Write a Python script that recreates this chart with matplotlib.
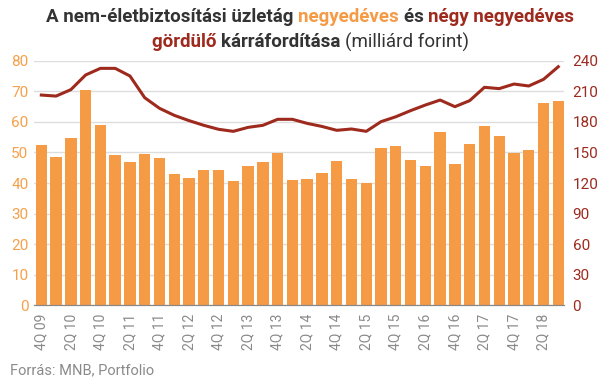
import matplotlib
matplotlib.use("Agg")
from matplotlib import pyplot as plt

plt.rcParams['font.family'] = ['Roboto', 'DejaVu Sans']

# negyedeves karraforditas (bal tengely, mrd Ft)
quarterly = [52.4, 48.5, 54.7, 70.4, 59.0, 49.2, 46.9, 49.5, 48.2, 42.9,
             41.7, 44.3, 44.3, 40.7, 45.6, 46.9, 49.8, 41.0, 41.3, 43.3,
             47.2, 41.3, 40.0, 51.4, 52.1, 47.5, 45.6, 56.7, 46.2, 52.8,
             58.6, 55.4, 49.8, 50.8, 66.2, 66.8]
# negy negyedeves gordulo (jobb tengely)
rolling = [206.3, 205.3, 211.6, 226.0, 232.5, 232.5, 225.0, 203.7, 193.3, 186.4,
           181.2, 176.6, 172.7, 170.7, 174.6, 176.6, 182.5, 182.5, 178.5, 175.5,
           171.7, 173.0, 170.7, 180.2, 185.0, 191.0, 196.5, 201.4, 194.9, 200.8,
           213.9, 212.6, 217.1, 215.2, 221.7, 234.1]
labels = []
for yr in range(9, 19):
    for q in range(1, 5):
        labels.append("%dQ %02d" % (q, yr))
labels = labels[3:3 + len(quarterly)]

orange = '#F59B46'
darkred = '#9E2A1E'
gray = '#8a8a8a'

fig = plt.figure(figsize=(6.06, 3.78), dpi=100)
ax = fig.add_axes([0.056, 0.1923, 0.875, 0.6471])
ax2 = ax.twinx()

x = list(range(len(quarterly)))
ax.bar(x, quarterly, width=0.77, color=orange, zorder=2)
ax2.plot(x, rolling, color=darkred, lw=2.2, zorder=3)

ax.set_xlim(-0.5, 35.4)
ax.set_ylim(0, 80)
ax2.set_ylim(0, 240)
ax.set_yticks(range(0, 81, 10))
ax2.set_yticks(range(0, 241, 30))
ax.grid(axis='y', color='#dddddd', lw=1, zorder=0)
ax.set_axisbelow(True)

ax.set_xticks(x[::2])
ax.set_xticklabels(labels[::2], rotation=90, color=gray, fontsize=10)
ax.tick_params(axis='x', length=0, pad=6)
ax.tick_params(axis='y', length=0, labelcolor='#F7A04B', labelsize=11, pad=4)
ax2.tick_params(axis='y', length=0, labelcolor=darkred, labelsize=11, pad=6)

for a in (ax, ax2):
    for s in ('top', 'left', 'right'):
        a.spines[s].set_visible(False)
    a.spines['bottom'].set_color('#888888')

# two-line title with coloured parts
def title_line(parts, y):
    texts = []
    for s, c, w in parts:
        texts.append(fig.text(0, y, s, color=c, fontweight=w, fontsize=13.5,
                              va='center', ha='left'))
    fig.canvas.draw()
    r = fig.canvas.get_renderer()
    widths = [t.get_window_extent(r).width / fig.bbox.width for t in texts]
    pos = 0.512 - sum(widths) / 2
    for t, w in zip(texts, widths):
        t.set_x(pos)
        pos += w

title_line([("A nem-életbiztosítási üzletág ", '#333333', 'bold'),
            ("negyedéves ", orange, 'bold'),
            ("és ", '#333333', 'bold'),
            ("négy negyedéves", darkred, 'bold')], 1 - 17 / 378)
title_line([("gördülő ", darkred, 'bold'),
            ("kárráfordítása ", '#333333', 'bold'),
            ("(milliárd forint)", '#333333', 'normal')], 1 - 42 / 378)

fig.text(10 / 606, 1 - 370 / 378, "Forrás: MNB, Portfolio", color=gray,
         fontsize=10.5, va='center', ha='left')

fig.savefig('out.png', dpi=100)
